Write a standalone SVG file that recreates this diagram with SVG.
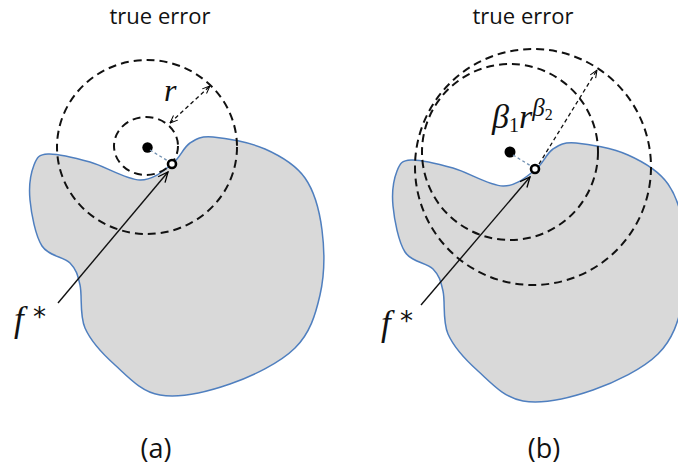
<svg xmlns="http://www.w3.org/2000/svg" width="678" height="472" viewBox="0 0 678 472">
<style>
.title{font-family:"Open Sans","Liberation Sans",sans-serif;font-size:22px;fill:#111;text-anchor:middle}
.cap{font-family:"Open Sans","Liberation Sans",sans-serif;font-size:27px;fill:#111;text-anchor:middle}
.math{font-family:"Liberation Serif","DejaVu Serif",serif;font-style:italic;fill:#111}
.star{font-family:"DejaVu Sans",sans-serif;font-size:26px;fill:#111}
.blob{fill:#d9d9d9;stroke:#4f7fbf;stroke-width:1.5}
.ring{fill:none;stroke:#111;stroke-width:2;stroke-dasharray:8 5}
.link{stroke:#6f8fb0;stroke-width:1.3;stroke-dasharray:3 2.5;fill:none}
.dim{stroke:#111;stroke-width:1.3;stroke-dasharray:4 3;fill:none}
.arrow{stroke:#111;stroke-width:1.4;fill:none}
.dot{fill:#000}
.hole{fill:#fff;stroke:#000;stroke-width:2.6}
</style>
<defs>
<path id="shape" d="M48,154 C57.3,153.5 74.7,157.7 90,162 C105.3,166.3 126.3,179.7 140,180 C153.7,180.3 163.7,170.2 172,164 C180.3,157.8 183.2,147.5 190,143 C196.8,138.5 200.5,136 213,137 C225.5,138 249.7,142.2 265,149 C280.3,155.8 295.5,164.5 305,178 C314.5,191.5 319.5,210.5 322,230 C324.5,249.5 324.5,275.3 320,295 C315.5,314.7 310,333.2 295,348 C280,362.8 252.5,376.2 230,384 C207.5,391.8 179.2,398.2 160,395 C140.8,391.8 127.5,376.2 115,365 C102.5,353.8 90.8,341.3 85,328 C79.2,314.7 82.5,295.8 80,285 C77.5,274.2 76.3,269.5 70,263 C63.7,256.5 48.7,256.5 42,246 C35.3,235.5 31.3,213.5 30,200 C28.7,186.5 31,172.7 34,165 C37,157.3 38.7,154.5 48,154 Z"/>
<marker id="ah" viewBox="0 0 12 12" refX="11" refY="6" markerWidth="12" markerHeight="12" markerUnits="userSpaceOnUse" orient="auto-start-reverse">
<path d="M1,1.5 L11,6 L1,10.5" fill="none" stroke="#000" stroke-width="1.3" stroke-dasharray="none"/>
</marker>
<marker id="ahs" viewBox="0 0 10 10" refX="9.5" refY="5" markerWidth="9" markerHeight="9" markerUnits="userSpaceOnUse" orient="auto-start-reverse">
<path d="M1,1.5 L9.5,5 L1,8.5" fill="none" stroke="#000" stroke-width="1.1" stroke-dasharray="none"/>
</marker>
</defs>
<rect width="678" height="472" fill="#fff"/>

<g id="panel-a">
<text class="title" x="160" y="24">true error</text>
<use id="region-a" href="#shape" class="blob"/>
<g id="ring-outer-a"><ellipse class="ring" cx="147" cy="147" rx="90" ry="87"/></g>
<g id="ring-inner-a"><ellipse class="ring" cx="146" cy="146" rx="32" ry="29"/></g>
<g id="point-a"><circle class="dot" cx="147.5" cy="147.5" r="5.2"/></g>
<g id="fstar-point-a"><circle class="hole" cx="172" cy="164" r="4"/></g>
<g id="label-r"><text class="math" x="164" y="101" font-size="32">r</text></g>
<g id="label-fstar-a"><text class="math" x="14" y="331" font-size="35">f</text><text class="star" x="33" y="326">*</text></g>
<text class="cap" x="156" y="458">(a)</text>
</g>

<g id="panel-b">
<text class="title" x="523" y="24">true error</text>
<use id="region-b" href="#shape" class="blob" transform="translate(363,6)"/>
<g id="ring-outer-b"><circle class="ring" cx="533" cy="167" r="118"/></g>
<g id="ring-inner-b"><circle class="ring" cx="510" cy="152" r="88"/></g>
<g id="point-b"><circle class="dot" cx="510" cy="152" r="5.5"/></g>
<g id="fstar-point-b"><circle class="hole" cx="535" cy="169" r="4"/></g>
<g id="label-beta"><text class="math" x="492" y="128" font-size="34">β<tspan font-style="normal" font-size="20" dy="4">1</tspan><tspan dy="-4">r</tspan><tspan font-size="25" dy="-12">β</tspan><tspan font-style="normal" font-size="16" dy="4">2</tspan></text></g>
<g id="label-fstar-b"><text class="math" x="381" y="335" font-size="35">f</text><text class="star" x="400" y="330">*</text></g>
<text class="cap" x="544" y="458">(b)</text>
</g>

<g id="connectors">
<line class="link" x1="150" y1="150" x2="168" y2="161"/>
<line class="dim" x1="170" y1="123" x2="210" y2="86" marker-start="url(#ahs)" marker-end="url(#ahs)"/>
<line class="arrow" x1="58" y1="303" x2="168" y2="172" marker-end="url(#ah)"/>
<line class="link" x1="513" y1="155" x2="531" y2="166"/>
<line class="dim" x1="539" y1="164" x2="597" y2="70" marker-end="url(#ahs)"/>
<line class="arrow" x1="421" y1="305" x2="530" y2="177" marker-end="url(#ah)"/>
</g>
</svg>
